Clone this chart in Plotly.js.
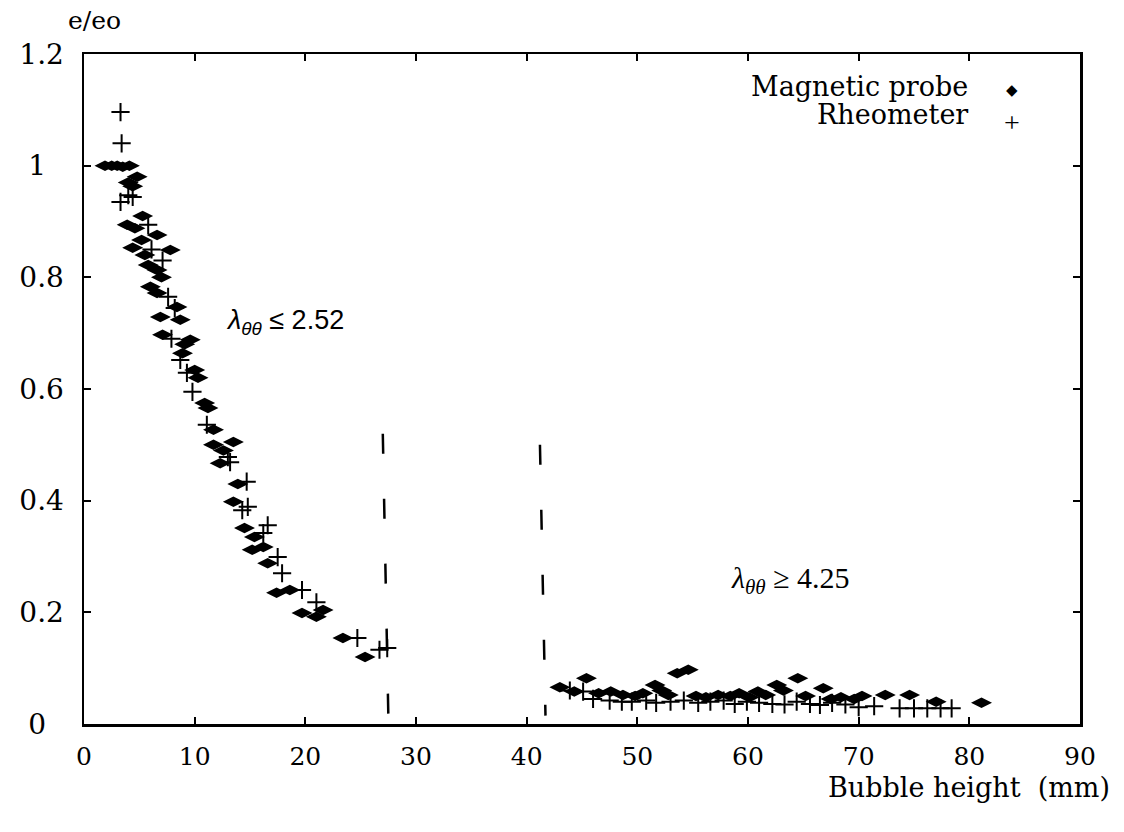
<!DOCTYPE html>
<html>
<head>
<meta charset="utf-8">
<script src="https://cdn.plot.ly/plotly-3.0.1.min.js"></script>
<style>html,body{margin:0;padding:0;background:#fff;}</style>
</head>
<body>
<div id="chart" style="width:1124px;height:832px;"></div>
<script>
// Magnetic probe (filled diamonds)
const probeX = [1.9,2.5,3.0,3.5,4.1,4.0,4.8,4.4,5.3,3.9,4.6,6.6,5.2,4.4,7.8,5.5,5.8,6.6,7.0,6.0,6.6,8.4,6.9,8.7,7.1,9.6,9.1,8.9,10.0,10.3,10.9,11.2,11.7,13.5,12.6,11.7,12.3,13.9,13.5,14.5,15.4,15.2,16.2,16.6,17.4,18.6,19.7,21.0,21.6,23.4,25.4,
  43.0,45.4,44.3,46.5,47.6,48.7,49.8,50.5,51.6,52.2,52.8,53.6,54.6,55.3,56.2,57.3,58.4,59.2,60.1,60.9,61.6,62.6,63.2,64.5,65.2,66.8,67.5,68.4,69.6,70.3,72.4,74.6,77.0,81.1];
const probeY = [1.0,1.0,1.0,0.998,1.0,0.97,0.98,0.963,0.91,0.894,0.888,0.876,0.867,0.853,0.849,0.84,0.822,0.813,0.80,0.783,0.772,0.747,0.729,0.724,0.697,0.688,0.68,0.664,0.634,0.62,0.575,0.566,0.527,0.505,0.49,0.50,0.467,0.43,0.398,0.351,0.335,0.312,0.317,0.288,0.235,0.24,0.199,0.192,0.204,0.154,0.12,
  0.066,0.082,0.058,0.055,0.058,0.052,0.05,0.055,0.07,0.06,0.052,0.091,0.097,0.05,0.048,0.052,0.05,0.055,0.048,0.058,0.052,0.07,0.06,0.082,0.05,0.064,0.045,0.048,0.045,0.05,0.052,0.052,0.04,0.038];

// Rheometer (plus signs)
const rheoX = [3.3,3.4,3.3,4.0,4.4,5.8,6.1,7.1,7.6,8.2,7.9,8.7,9.3,9.8,11.1,13.0,13.2,14.7,14.3,14.8,16.6,16.2,17.5,17.9,19.7,21.0,24.7,26.7,27.4,
  43.9,45.1,46.0,47.5,48.6,49.5,50.8,51.7,53.0,54.2,55.5,56.6,57.8,58.8,59.9,61.0,62.2,63.3,64.4,65.6,66.5,67.6,68.8,70.0,71.4,73.7,75.0,76.2,77.4,78.4];
const rheoY = [1.096,1.04,0.935,0.947,0.944,0.894,0.85,0.83,0.765,0.745,0.69,0.652,0.629,0.595,0.536,0.478,0.469,0.434,0.383,0.389,0.356,0.342,0.299,0.27,0.24,0.218,0.154,0.133,0.136,
  0.06,0.058,0.045,0.042,0.04,0.04,0.042,0.038,0.04,0.042,0.038,0.04,0.042,0.036,0.04,0.038,0.036,0.035,0.04,0.036,0.034,0.038,0.035,0.03,0.032,0.028,0.028,0.028,0.028,0.028];

// Dashed boundaries between regimes
const lowBoundX = [27.0, 27.5];
const lowBoundY = [0.52, 0.015];
const highBoundX = [41.2, 41.7];
const highBoundY = [0.50, 0.015];

// Axis ticks
const xTickVals = [0,10,20,30,40,50,60,70,80,90];
const yTickVals = [0,0.2,0.4,0.6,0.8,1,1.2];
const yTickText = ["0","0.2","0.4","0.6","0.8","1","1.2"];

// Labels
const seriesNames = ["Magnetic probe","Rheometer"];
const regionLabels = ["<i>λ</i><sub><i>θθ</i></sub> ≤ 2.52", "<i>λ</i><sub><i>θθ</i></sub> ≥ 4.25"];
const regionPos = [[18.2,0.72],[63.8,0.258]];

const serif = "DejaVu Serif";

const traces = [
  {x: lowBoundX, y: lowBoundY, mode:"lines", line:{color:"#000", width:2.5, dash:"20px,45px"}, hoverinfo:"skip", showlegend:false},
  {x: highBoundX, y: highBoundY, mode:"lines", line:{color:"#000", width:2.5, dash:"20px,45px"}, hoverinfo:"skip", showlegend:false},
  {x: probeX, y: probeY, name: seriesNames[0], mode:"markers", type:"scatter",
   marker:{symbol:"diamond-wide", size:15, color:"#000", line:{width:0}}, showlegend:false},
  {x: rheoX, y: rheoY, name: seriesNames[1], mode:"markers", type:"scatter",
   marker:{symbol:"cross-thin", size:13, color:"#000", line:{width:2, color:"#000"}}, showlegend:false}
];

const layout = {
  width:1124, height:832,
  margin:{l:84, r:44, t:54, b:108},
  paper_bgcolor:"#fff", plot_bgcolor:"#fff",
  font:{family:serif, size:25, color:"#000"},
  showlegend:false,
  xaxis: {range:[0,90], tickmode:"array", tickvals:xTickVals, ticklabelstandoff:8,
    showgrid:false, zeroline:false, showline:true, linecolor:"#000", linewidth:2.5,
    mirror:"ticks", ticks:"inside", ticklen:7, tickwidth:2, tickcolor:"#000",
    tickfont:{family:serif, size:25, color:"#000"}},
  yaxis: {range:[0,1.2], tickmode:"array", tickvals:yTickVals,
    ticktext: yTickText.map(t => t.length === 1 ? t + "\u2007" : t), ticklabelstandoff:12,
    showgrid:false, zeroline:false, showline:true, linecolor:"#000", linewidth:2.5,
    mirror:"ticks", ticks:"inside", ticklen:7, tickwidth:2, tickcolor:"#000",
    tickfont:{family:serif, size:28, color:"#000"}},
  annotations:[
    {xref:"paper", yref:"paper", x:0.011, y:1.0507, text:"e/eo", showarrow:false, xanchor:"center", yanchor:"middle",
     font:{family:serif, size:25, color:"#000"}},
    {xref:"paper", yref:"paper", x:1.032, y:-0.095, text:"Bubble height&nbsp;&nbsp;(mm)", showarrow:false, xanchor:"right", yanchor:"middle",
     font:{family:serif, size:27, color:"#000"}},
    {xref:"paper", yref:"paper", x:0.8896, y:0.9522, text:seriesNames[0], showarrow:false, xanchor:"right", yanchor:"middle",
     font:{family:serif, size:27, color:"#000"}},
    {xref:"paper", yref:"paper", x:0.8896, y:0.9104, text:seriesNames[1], showarrow:false, xanchor:"right", yanchor:"middle",
     font:{family:serif, size:27, color:"#000"}},
    {xref:"paper", yref:"paper", x:0.9317, y:0.9463, text:"◆", showarrow:false, xanchor:"center", yanchor:"middle",
     font:{family:"DejaVu Sans", size:15, color:"#000"}},
    {xref:"paper", yref:"paper", x:0.9317, y:0.8985, text:"+", showarrow:false, xanchor:"center", yanchor:"middle",
     font:{family:"Liberation Serif", size:28, color:"#000"}},
    {x:regionPos[0][0], y:regionPos[0][1], text:regionLabels[0], showarrow:false, xanchor:"center", yanchor:"middle",
     font:{family:"Liberation Sans", size:27, color:"#000"}},
    {x:regionPos[1][0], y:regionPos[1][1], text:regionLabels[1], showarrow:false, xanchor:"center", yanchor:"middle",
     font:{family:"Liberation Serif", size:30, color:"#000"}}
  ]
};

Plotly.newPlot("chart", traces, layout, {displayModeBar:false, staticPlot:true});
</script>
</body>
</html>
